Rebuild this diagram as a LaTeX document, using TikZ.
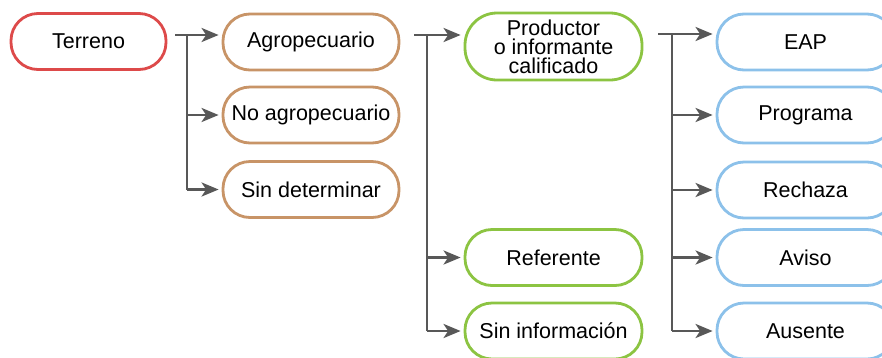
\documentclass[tikz,border=0pt]{standalone}
\usepackage{fontspec}
\setmainfont{Liberation Sans}
\usetikzlibrary{arrows.meta}
\definecolor{cred}{RGB}{221,74,74}
\definecolor{cbrown}{RGB}{200,148,103}
\definecolor{cgreen}{RGB}{140,196,66}
\definecolor{cblue}{RGB}{140,193,234}
\definecolor{cgray}{RGB}{88,88,88}
\tikzset{
  box/.style={draw, line width=2.8pt, rounded corners=27pt, minimum height=56pt, inner sep=0pt,
    font=\fontsize{21.5}{19}\selectfont, align=center, text=black},
  redbox/.style={box, draw=cred, minimum width=155pt},
  brownbox/.style={box, draw=cbrown, minimum width=176pt},
  greenbox/.style={box, draw=cgreen, minimum width=177pt},
  bluebox/.style={box, draw=cblue, minimum width=177pt},
  conn/.style={draw=cgray, line width=2.8pt},
  arr/.style={conn, -{Stealth[length=17pt,width=14pt,inset=4.5pt]}, shorten >=3pt},
}
\begin{document}
\begin{tikzpicture}[x=1pt,y=-1pt]
\clip (0,0) rectangle (882,357);
\useasboundingbox (0,0) rectangle (882,357);
\fill[white] (0,0) rectangle (882,357);

\node[redbox] (terreno) at (88.5,41.5) {Terreno};

\node[brownbox] (agro) at (311,42) {Agropecuario};
\node[brownbox] (noagro) at (311,115) {No agropecuario};
\node[brownbox] (sindet) at (311,189.5) {Sin determinar};

\node[greenbox, minimum height=67pt, rounded corners=32pt] (prod) at (553.5,46.5) {Productor\\o informante\\calificado};
\node[greenbox] (ref) at (553.5,257.5) {Referente};
\node[greenbox] (sininfo) at (553.5,331) {Sin información};

\node[bluebox] (eap) at (805.5,42) {EAP};
\node[bluebox] (prog) at (805.5,115) {Programa};
\node[bluebox] (rech) at (805.5,190) {Rechaza};
\node[bluebox] (aviso) at (805.5,257.5) {Aviso};
\node[bluebox] (ausente) at (805.5,331) {Ausente};

% Terreno branch
\coordinate (s1) at (175,35);
\coordinate (j1) at (187,35);
\draw[arr] (s1) -- (agro.west |- s1);
\draw[conn] (j1) -- (j1 |- sindet);
\draw[arr] (j1 |- noagro) -- (noagro.west);
\draw[arr] (j1 |- sindet) -- (sindet.west);

% Agropecuario branch
\coordinate (s2) at (414,35);
\coordinate (j2) at (427,35);
\draw[arr] (s2) -- (prod.west |- s2);
\draw[conn] (j2) -- (j2 |- sininfo);
\draw[arr] (j2 |- ref) -- (ref.west);
\draw[arr] (j2 |- sininfo) -- (sininfo.west);

% Productor branch
\coordinate (s3) at (658,34);
\coordinate (j3) at (672,34);
\draw[arr] (s3) -- (eap.west |- s3);
\draw[conn] (j3) -- (j3 |- ausente);
\draw[arr] (j3 |- prog) -- (prog.west);
\draw[arr] (j3 |- rech) -- (rech.west);
\draw[arr] (j3 |- aviso) -- (aviso.west);
\draw[arr] (j3 |- ausente) -- (ausente.west);
\end{tikzpicture}
\end{document}
